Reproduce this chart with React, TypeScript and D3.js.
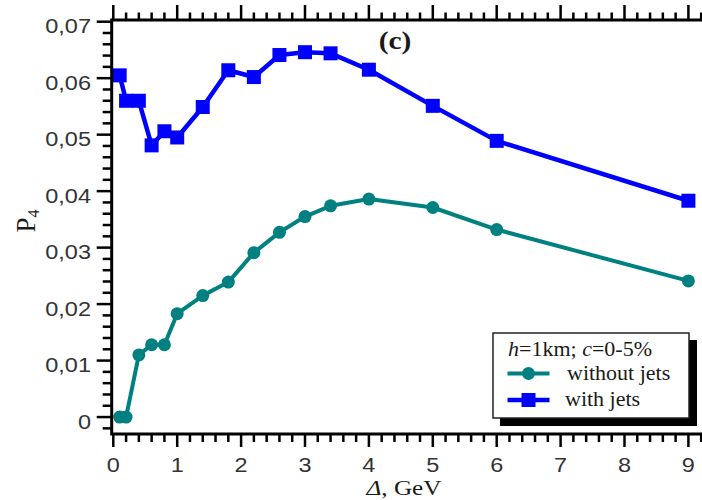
import React from "react";
import * as d3 from "d3";

const deltaValues = [0.1, 0.2, 0.4, 0.6, 0.8, 1.0, 1.4, 1.8, 2.2, 2.6, 3.0, 3.4, 4, 5, 6, 9];
const withJets = [0.0605, 0.0560, 0.0560, 0.0481, 0.0506, 0.0495, 0.0549, 0.0614, 0.0602, 0.0641, 0.0646, 0.0644, 0.0615, 0.0551, 0.0489, 0.0383];
const withoutJets = [0, 0, 0.0110, 0.0128, 0.0128, 0.0183, 0.0215, 0.0239, 0.0291, 0.0327, 0.0355, 0.0374, 0.0386, 0.0371, 0.0332, 0.0241];
const xMajorTicks = [0, 1, 2, 3, 4, 5, 6, 7, 8, 9];
const yMajorTicks = [0, 0.01, 0.02, 0.03, 0.04, 0.05, 0.06, 0.07];
const yTickLabels = ["0", "0,01", "0,02", "0,03", "0,04", "0,05", "0,06", "0,07"];

const W = 702;
const H = 500;
const TEAL = "#008080";
const BLUE = "#0000ff";
const SANS = "'Liberation Sans', Arial, sans-serif";
const SERIF = "'Liberation Serif', 'Times New Roman', serif";
const SX = 1.12;

export default function App() {
  const x = d3.scaleLinear().domain([-0.025, 9.3]).range([111.7, 111.7 + 9.325 * 63.9]);
  const y = d3.scaleLinear().domain([-0.003, 0.0703]).range([434, 20]);
  const left = x.range()[0];
  const bottom = y.range()[0];
  const top = y.range()[1];

  const xMinor = d3.range(0, 9.31, 0.2).map((v) => Math.round(v * 10) / 10).filter((v) => Math.abs(v - Math.round(v)) > 1e-6);
  const yMinor = d3.range(-0.002, 0.0701, 0.002).map((v) => Math.round(v * 1000) / 1000).filter((v) => Math.abs(v * 100 - Math.round(v * 100)) > 1e-6);

  const line = d3.line<[number, number]>().x((d) => x(d[0])).y((d) => y(d[1]));
  const blueData: [number, number][] = deltaValues.map((d, i) => [d, withJets[i]]);
  const tealData: [number, number][] = deltaValues.map((d, i) => [d, withoutJets[i]]);

  return (
    <svg width={W} height={H} style={{ position: "absolute", left: 0, top: 0, background: "#fff" }}>
      <defs>
        <clipPath id="clipAll">
          <rect x={0} y={0} width={W} height={H} />
        </clipPath>
      </defs>
      <g clipPath="url(#clipAll)">
        {/* data lines */}
        <path d={line(tealData) || ""} fill="none" stroke={TEAL} strokeWidth={4} strokeLinejoin="round" />
        {tealData.map((d, i) => (
          <circle key={"c" + i} cx={x(d[0])} cy={y(d[1])} r={6.5} fill={TEAL} />
        ))}
        <path d={line(blueData) || ""} fill="none" stroke={BLUE} strokeWidth={4.5} strokeLinejoin="round" />
        {blueData.map((d, i) => (
          <rect key={"s" + i} x={x(d[0]) - 7} y={y(d[1]) - 7} width={14} height={14} fill={BLUE} />
        ))}

        {/* axes lines */}
        <line x1={left} x2={W + 10} y1={top} y2={top} stroke="#000" strokeWidth={3} />
        <line x1={left} x2={W + 10} y1={bottom} y2={bottom} stroke="#000" strokeWidth={3} />
        <line x1={left} x2={left} y1={top - 1.5} y2={bottom + 1.5} stroke="#000" strokeWidth={3} />

        {/* x ticks */}
        {xMajorTicks.map((v) => (
          <g key={"xt" + v}>
            <line x1={x(v)} x2={x(v)} y1={bottom} y2={bottom + 13} stroke="#000" strokeWidth={2.5} />
            <line x1={x(v)} x2={x(v)} y1={top} y2={top - 15} stroke="#000" strokeWidth={2.5} />
            <text transform={`translate(${x(v)},471.5) scale(${SX},1)`} textAnchor="middle" fontFamily={SANS} fontSize={21} fill="#333">
              {v}
            </text>
          </g>
        ))}
        {xMinor.map((v) => (
          <g key={"xm" + v}>
            <line x1={x(v)} x2={x(v)} y1={bottom} y2={bottom + 8} stroke="#000" strokeWidth={2.5} />
            <line x1={x(v)} x2={x(v)} y1={top} y2={top - 7.5} stroke="#000" strokeWidth={2.5} />
          </g>
        ))}

        {/* y ticks */}
        {yMajorTicks.map((v, i) => (
          <g key={"yt" + v}>
            <line x1={left - 15} x2={left} y1={y(v)} y2={y(v)} stroke="#000" strokeWidth={2.5} />
            <text transform={`translate(91,${y(v) + 11.5}) scale(${SX},1)`} textAnchor="end" fontFamily={SANS} fontSize={21} fill="#333">
              {yTickLabels[i]}
            </text>
          </g>
        ))}
        {yMinor.map((v) => (
          <line key={"ym" + v} x1={left - 9} x2={left} y1={y(v)} y2={y(v)} stroke="#000" strokeWidth={2.5} />
        ))}

        {/* axis titles */}
        <text transform="translate(404,495) scale(1.2,1)" textAnchor="middle" fontFamily={SERIF} fontSize={21} fill="#1a1a1a">
          <tspan fontStyle="italic">Δ</tspan>
          <tspan>, GeV</tspan>
        </text>
        <text transform="translate(35,221) rotate(-90)" textAnchor="middle" fontFamily={SERIF} fontSize={27} fill="#1a1a1a">
          <tspan>P</tspan>
          <tspan fontSize={16} dy={4}>4</tspan>
        </text>
        <text transform="translate(395,49) scale(1.18,1)" textAnchor="middle" fontFamily={SERIF} fontSize={25} fontWeight="bold" fill="#1a1a1a">
          (c)
        </text>

        {/* legend */}
        <rect x={500} y={340} width={197} height={86} fill="#000" />
        <rect x={493} y={333} width={196} height={85} fill="#fff" stroke="#222" strokeWidth={1.5} />
        <text x={508} y={356} fontFamily={SERIF} fontSize={22} fill="#1a1a1a">
          <tspan fontStyle="italic">h</tspan>
          <tspan>=1km; </tspan>
          <tspan fontStyle="italic">c</tspan>
          <tspan>=0-5%</tspan>
        </text>
        <line x1={507.5} x2={549.5} y1={373.5} y2={373.5} stroke={TEAL} strokeWidth={4} />
        <circle cx={528.5} cy={373.5} r={6.5} fill={TEAL} />
        <text x={567} y={380} fontFamily={SERIF} fontSize={22} fill="#1a1a1a">without jets</text>
        <line x1={507.5} x2={549.5} y1={400} y2={400} stroke={BLUE} strokeWidth={4.5} />
        <rect x={521.5} y={393} width={14} height={14} fill={BLUE} />
        <text x={565} y={406} fontFamily={SERIF} fontSize={22} fill="#1a1a1a">with jets</text>
      </g>
    </svg>
  );
}
